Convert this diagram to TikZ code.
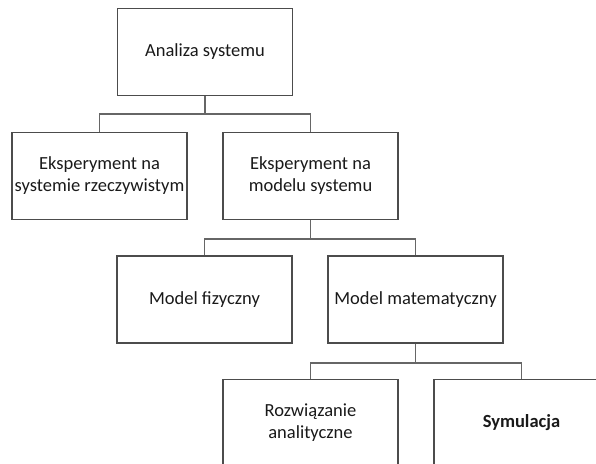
\documentclass[tikz,border=0pt]{standalone}
\usepackage{fontspec}
\setmainfont{Carlito}
\begin{document}
\begin{tikzpicture}[x=1pt,y=-1pt,
  box/.style={draw=black!70, line width=1.2pt, minimum width=175pt, minimum height=87pt, inner sep=0pt, align=center, font=\fontsize{18.5}{22}\selectfont, text=black!90},
  conn/.style={draw=black!60, line width=1.4pt}]
\useasboundingbox (0,0) rectangle (596,463);
\begin{scope}
\clip (0,0) rectangle (596,463);
\node[box] (a) at (205,52) {Analiza systemu};
\node[box] (b) at (99.5,176) {Eksperyment na\\systemie rzeczywistym};
\node[box] (c) at (310.5,176) {Eksperyment na\\modelu systemu};
\node[box] (d) at (204.5,299.5) {Model fizyczny};
\node[box] (e) at (415.5,299.5) {Model matematyczny};
\node[box] (f) at (310.5,423) {Rozwiązanie\\analityczne};
\node[box] (g) at (521.5,423) {\bfseries Symulacja};
\coordinate (j1) at (205,114);
\coordinate (j2) at (310.5,239);
\coordinate (j3) at (415.5,363);
\draw[conn] (a.south) -- (j1);
\draw[conn] (b.north) |- (j1) -| (c.north);
\draw[conn] (c.south) -- (j2);
\draw[conn] (d.north) |- (j2) -| (e.north);
\draw[conn] (e.south) -- (j3);
\draw[conn] (f.north) |- (j3) -| (g.north);
\end{scope}
\end{tikzpicture}
\end{document}
